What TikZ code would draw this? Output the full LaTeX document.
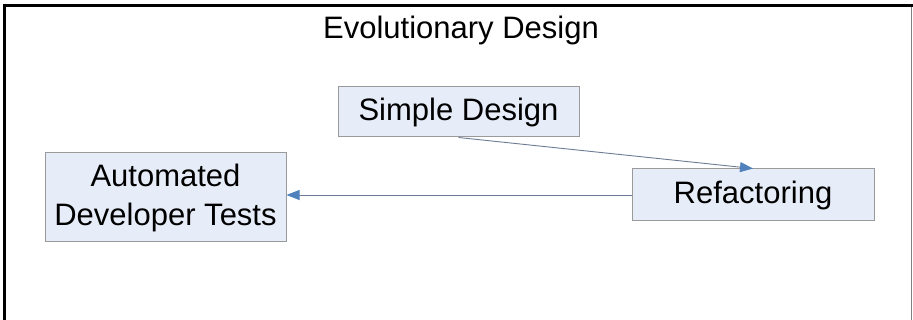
\documentclass[tikz,border=0pt]{standalone}
\usepackage{fontspec}
\setmainfont{Liberation Sans}
\usetikzlibrary{arrows.meta}
\definecolor{boxfill}{HTML}{E7EDF8}
\definecolor{boxline}{HTML}{9A9A9A}
\definecolor{arrowblue}{HTML}{4F81BD}
\definecolor{linegray}{HTML}{6C7C96}
\begin{document}
\begin{tikzpicture}[x=1pt,y=-1pt,
  box/.style={draw=boxline,fill=boxfill,line width=1pt,rectangle,inner sep=0pt,
    align=center,font=\fontsize{31}{39}\selectfont},
  conn/.style={draw=linegray,line width=0.9pt,
    -{Triangle[length=13pt,width=10pt,fill=arrowblue,color=arrowblue]}},
  framethick/.style={draw=black,line width=3pt}
]
\useasboundingbox (0,0) rectangle (913,320);
\fill[white] (0,0) rectangle (913,320);
% frame
\coordinate (tl) at (4.5,6);
\coordinate (tr) at (912,6);
\coordinate (bl) at (4.5,320);
\coordinate (br) at (911.5,320);
\draw[draw=gray,line width=1.5pt] (911.5,6) -- (br);
\draw[framethick,line cap=rect] (bl) -- (tl) -- (tr);
% title
\node[anchor=base,font=\fontsize{31}{39}\selectfont,inner sep=0pt] (title) at (461,39) {Evolutionary Design};
% boxes
\node[box,minimum width=241pt,minimum height=50pt] (sd) at (458.5,112) {Simple Design};
\node[box,minimum width=241pt,minimum height=89pt] (adt) at (165.5,197.5) {Automated\\Developer Tests};
\node[box,minimum width=242pt,minimum height=52pt] (rf) at (753,195) {Refactoring};
% connectors
\draw[conn] (sd.south) -- (rf.north);
\draw[conn] (rf.west) -- (rf.west -| adt.east);
\end{tikzpicture}
\end{document}
